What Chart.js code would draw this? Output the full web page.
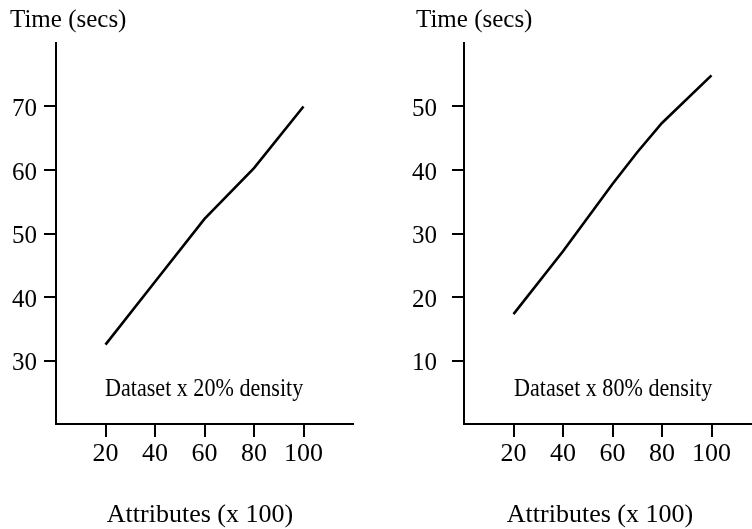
<!DOCTYPE html>
<html>
<head>
<meta charset="utf-8">
<script src="https://cdn.jsdelivr.net/npm/chart.js@4/dist/chart.umd.min.js"></script>
<style>
  html, body { margin: 0; padding: 0; background: #fff; overflow: hidden; }
  #wrap { position: relative; width: 752px; height: 529px; overflow: hidden; }
  #c1 { position: absolute; left: 0; top: 0; }
  #c2 { position: absolute; left: 376px; top: 0; }
</style>
</head>
<body>
<div id="wrap">
  <canvas id="c1" width="376" height="529"></canvas>
  <canvas id="c2" width="420" height="529"></canvas>
</div>
<script>
// Attribute counts (x 100) and measured run times (secs)
const attributes20 = [20, 40, 60, 80, 100];
const time20 = [32.5, 42.4, 52.3, 60.3, 70];
const attributes80 = [20, 40, 60, 70, 80, 100];
const time80 = [17.3, 27.2, 37.8, 42.8, 47.4, 54.9];

// Tick values shown on the axes
const xTickValues = [20, 40, 60, 80, 100];
const yTickValues20 = [30, 40, 50, 60, 70];
const yTickValues80 = [10, 20, 30, 40, 50];

// Text drawn on each panel
const yTitle = 'Time (secs)';
const xTitle = 'Attributes (x 100)';
const note20 = 'Dataset x 20% density';
const note80 = 'Dataset x 80% density';

const FONT = '"Liberation Serif", "Times New Roman", serif';
const INK = '#000';

// Draws the free-standing captions of a panel
const captions = {
  id: 'captions',
  afterDraw(chart, args, opts) {
    const ctx = chart.ctx;
    for (const item of opts.items) {
      ctx.save();
      ctx.fillStyle = INK;
      ctx.font = item.size + 'px ' + FONT;
      ctx.textBaseline = 'alphabetic';
      ctx.textAlign = item.align || 'left';
      ctx.translate(item.x, item.y);
      ctx.scale(item.squeeze || 1, 1);
      ctx.fillText(item.text, 0, 0);
      ctx.restore();
    }
  }
};

function panel(canvasId, xs, ys, yMin, yMax, yTicks, layoutOpts) {
  return new Chart(document.getElementById(canvasId), {
    type: 'line',
    data: {
      datasets: [{
        data: xs.map((x, i) => ({ x: x, y: ys[i] })),
        borderColor: INK,
        borderWidth: 2.6,
        pointRadius: 0,
        tension: 0,
        fill: false
      }]
    },
    options: {
      responsive: false,
      animation: false,
      devicePixelRatio: 1,
      layout: { padding: { top: 43, right: layoutOpts.padRight, left: 0, bottom: 0 } },
      plugins: {
        legend: { display: false },
        tooltip: { enabled: false },
        captions: { items: layoutOpts.texts }
      },
      scales: {
        x: {
          type: 'linear',
          min: 0,
          max: 120,
          afterBuildTicks: s => { s.ticks = xTickValues.map(v => ({ value: v })); },
          afterFit: s => { s.height = 105; },
          grid: { drawOnChartArea: false, drawTicks: true, tickLength: 13, color: INK, lineWidth: 2 },
          border: { display: true, color: INK, width: 2 },
          ticks: {
            color: INK,
            font: { family: FONT, size: 26 },
            padding: 2,
            maxRotation: 0,
            callback: v => String(v)
          }
        },
        y: {
          type: 'linear',
          min: yMin,
          max: yMax,
          afterBuildTicks: s => { s.ticks = yTicks.map(v => ({ value: v })); },
          afterFit: s => { s.width = layoutOpts.axisLeft; },
          grid: { drawOnChartArea: false, drawTicks: true, tickLength: 12, color: INK, lineWidth: 2 },
          border: { display: true, color: INK, width: 2 },
          ticks: {
            color: INK,
            font: { family: FONT, size: 25 },
            padding: layoutOpts.yPad,
            labelOffset: 3,
            callback: v => String(v)
          }
        }
      }
    },
    plugins: [captions]
  });
}

panel('c1', attributes20, time20, 20, 80, yTickValues20, {
  padRight: 23,
  axisLeft: 56,
  yPad: 7,
  texts: [
    { text: yTitle, x: 10, y: 27, size: 25 },
    { text: note20, x: 105, y: 396, size: 26, squeeze: 0.85 },
    { text: xTitle, x: 200, y: 522, size: 26, align: 'center' }
  ]
});

panel('c2', attributes80, time80, 0, 60, yTickValues80, {
  padRight: 35,
  axisLeft: 88,
  yPad: 15,
  texts: [
    { text: yTitle, x: 40, y: 27, size: 25 },
    { text: note80, x: 138, y: 396, size: 26, squeeze: 0.85 },
    { text: xTitle, x: 224, y: 522, size: 26, align: 'center' }
  ]
});
</script>
</body>
</html>
